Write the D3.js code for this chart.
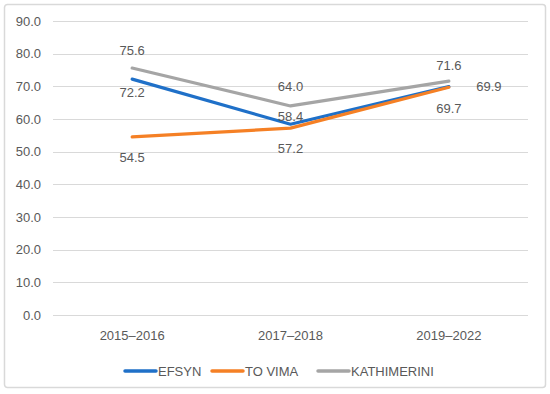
<!DOCTYPE html>
<html>
<head>
<meta charset="utf-8">
<script src="https://cdn.jsdelivr.net/npm/d3@7"></script>
<style>
  body { margin: 0; background: #fff; }
  text { font-family: "Liberation Sans", Arial, sans-serif; fill: #595959; }
</style>
</head>
<body>
<svg id="chart"></svg>
<script>
var categories = ['2015\u20132016', '2017\u20132018', '2019\u20132022']
var efsyn = [72.2, 58.4, 69.9]
var toVima = [54.5, 57.2, 69.7]
var kathimerini = [75.6, 64.0, 71.6]
var yTicks = [0, 10, 20, 30, 40, 50, 60, 70, 80, 90]

// label placement per point: [dx, dy]
var series = [
    { name: 'KATHIMERINI', values: kathimerini, color: '#a5a5a5', labelPos: [[0, -18], [0, -19], [0, -16]] },
    { name: 'EFSYN', values: efsyn, color: '#1f70c8', labelPos: [[0, 13], [0, -8], [40, 0]] },
    { name: 'TO VIMA', values: toVima, color: '#f58025', labelPos: [[0, 20], [0, 20], [0, 21]] }
]
var legendOrder = ['EFSYN', 'TO VIMA', 'KATHIMERINI']

var width = 550, height = 394
var margin = { left: 53, right: 22, top: 21, bottom: 79 }

var svg = d3.select('#chart')
    .attr('width', width)
    .attr('height', height)

svg.append('rect')
    .attr('x', 4.5).attr('y', 4.5)
    .attr('width', 541).attr('height', 383)
    .attr('rx', 3)
    .attr('fill', '#fff')
    .attr('stroke', '#d9d9d9')
    .attr('stroke-width', 1.5)

var xScale = d3.scaleBand()
    .domain(categories)
    .range([margin.left, width - margin.right])

var yScale = d3.scaleLinear()
    .domain([0, 90])
    .range([height - margin.bottom, margin.top])

// gridlines
svg.append('g')
    .selectAll('line')
    .data(yTicks)
    .join('line')
    .attr('x1', margin.left)
    .attr('x2', width - margin.right)
    .attr('y1', d => Math.round(yScale(d)) + 0.5)
    .attr('y2', d => Math.round(yScale(d)) + 0.5)
    .attr('stroke', '#d9d9d9')
    .attr('stroke-width', 1)

var yAxis = d3.axisLeft(yScale)
    .tickValues(yTicks)
    .tickFormat(d3.format('.1f'))
    .tickSize(0)
    .tickPadding(12)

svg.append('g')
    .attr('transform', 'translate(' + margin.left + ',0)')
    .call(yAxis)
    .call(g => g.select('.domain').remove())
    .selectAll('text')
    .style('font-size', '13px')
    .attr('fill', '#595959')

var xAxis = d3.axisBottom(xScale).tickSize(0).tickPadding(16)

svg.append('g')
    .attr('transform', 'translate(0,' + yScale(0) + ')')
    .call(xAxis)
    .call(g => g.select('.domain').remove())
    .selectAll('text')
    .style('font-size', '13px')
    .attr('fill', '#595959')

var cx = d => xScale(d) + xScale.bandwidth() / 2

var line = d3.line()
    .x((d, i) => cx(categories[i]))
    .y(d => yScale(d))

series.forEach(function (s) {
    svg.append('path')
        .datum(s.values)
        .attr('d', line)
        .attr('fill', 'none')
        .attr('stroke', s.color)
        .attr('stroke-width', 3.2)
        .attr('stroke-linejoin', 'round')
        .attr('stroke-linecap', 'round')
})

series.forEach(function (s) {
    svg.append('g')
        .selectAll('text')
        .data(s.values)
        .join('text')
        .attr('x', (d, i) => cx(categories[i]) + s.labelPos[i][0])
        .attr('y', (d, i) => yScale(d) + s.labelPos[i][1])
        .attr('dy', '0.35em')
        .attr('text-anchor', 'middle')
        .style('font-size', '13px')
        .text(d => d.toFixed(1))
})

// legend
var legendX = [125, 212, 318]
var legend = svg.append('g')
legendOrder.forEach(function (name, i) {
    var s = series.find(d => d.name == name)
    var g = legend.append('g').attr('transform', 'translate(' + legendX[i] + ',371)')
    g.append('line')
        .attr('x1', 0).attr('x2', 31)
        .attr('stroke', s.color)
        .attr('stroke-width', 3.5)
        .attr('stroke-linecap', 'round')
    g.append('text')
        .attr('x', 33)
        .attr('dy', '0.35em')
        .style('font-size', '13px')
        .text(name)
})
</script>
</body>
</html>
